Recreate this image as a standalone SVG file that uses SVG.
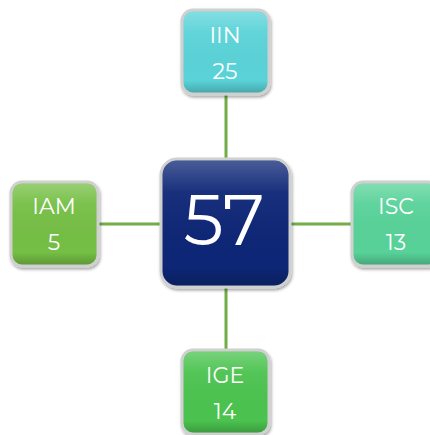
<svg xmlns="http://www.w3.org/2000/svg" width="430" height="435" viewBox="0 0 430 435">
<style>
.edge{stroke:#70ad47;stroke-width:3;fill:none}
.frame{stroke:#d0d0d0;stroke-width:3}
.lbl{font-family:Montserrat,"Open Sans","Liberation Sans",sans-serif;fill:#ffffff;text-anchor:middle}
.small{font-size:22px}
.big{font-size:71px}
</style>
<defs>
<linearGradient id="shine" x1="0" y1="0" x2="0" y2="1">
<stop offset="0" stop-color="#ffffff" stop-opacity="0.25"/>
<stop offset="0.25" stop-color="#ffffff" stop-opacity="0.05"/>
<stop offset="0.85" stop-color="#000000" stop-opacity="0"/>
<stop offset="1" stop-color="#000000" stop-opacity="0.2"/>
</linearGradient>
<filter id="sh" x="-20%" y="-20%" width="140%" height="140%">
<feDropShadow dx="1" dy="2" stdDeviation="1.5" flood-color="#000" flood-opacity="0.35"/>
</filter>
</defs>
<g id="connectors">
<line class="edge" x1="226" y1="95" x2="226" y2="158"/>
<line class="edge" x1="226" y1="288" x2="226" y2="350"/>
<line class="edge" x1="98" y1="224" x2="160" y2="224"/>
<line class="edge" x1="290" y1="224" x2="352" y2="224"/>
</g>
<g id="n57">
<rect class="frame" x="161" y="159" width="129" height="128" rx="16" fill="#0a2876" filter="url(#sh)"/>
<rect x="162.5" y="160.5" width="126" height="125" rx="15" fill="url(#shine)"/>
<text class="lbl big" x="224" y="245">57</text>
</g>
<g id="nIIN">
<rect class="frame" x="182" y="10" width="87" height="84" rx="11" fill="#5ad3d8" filter="url(#sh)"/>
<rect x="183.5" y="11.5" width="84" height="81" rx="10" fill="url(#shine)"/>
<text class="lbl small" x="225" y="43">IIN</text>
<text class="lbl small" x="225" y="79">25</text>
</g>
<g id="nIAM">
<rect class="frame" x="11" y="182" width="87" height="84" rx="11" fill="#74bf44" filter="url(#sh)"/>
<rect x="12.5" y="183.5" width="84" height="81" rx="10" fill="url(#shine)"/>
<text class="lbl small" x="54" y="214">IAM</text>
<text class="lbl small" x="54" y="250">5</text>
</g>
<g id="nISC">
<rect class="frame" x="352" y="182" width="87" height="84" rx="11" fill="#58d299" filter="url(#sh)"/>
<rect x="353.5" y="183.5" width="84" height="81" rx="10" fill="url(#shine)"/>
<text class="lbl small" x="396" y="214">ISC</text>
<text class="lbl small" x="396" y="250">13</text>
</g>
<g id="nIGE">
<rect class="frame" x="182" y="350" width="87" height="84" rx="11" fill="#4cc34f" filter="url(#sh)"/>
<rect x="183.5" y="351.5" width="84" height="81" rx="10" fill="url(#shine)"/>
<text class="lbl small" x="225" y="383">IGE</text>
<text class="lbl small" x="225" y="419">14</text>
</g>
</svg>
